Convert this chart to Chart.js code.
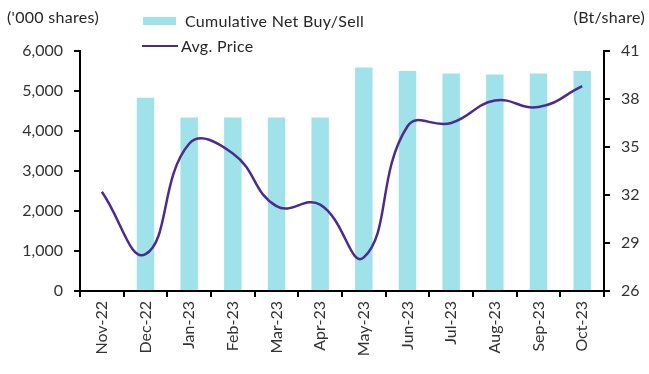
<!DOCTYPE html>
<html>
<head>
<meta charset="utf-8">
<script src="https://cdn.jsdelivr.net/npm/chart.js@4.4.0/dist/chart.umd.min.js"></script>
<style>
  html, body { margin: 0; padding: 0; background: #fff; }
  #wrap { position: relative; width: 649px; height: 374px; font-family: "Lato", "Open Sans", sans-serif; color: #262626; }
  #c { position: absolute; left: 0; top: 0; }
  .lbl { position: absolute; font-size: 16px; line-height: 18px; white-space: nowrap; letter-spacing: 0.3px; }
  .sw-bar { position: absolute; left: 143px; top: 17px; width: 33px; height: 8px; background: #A0E2EA; }
  .sw-line { position: absolute; left: 142px; top: 45px; width: 36px; height: 2px; background: #4B2C8E; }
</style>
</head>
<body>
<div id="wrap">
  <canvas id="c" width="649" height="374"></canvas>
  <div class="lbl" style="left:7px; top:8px;">('000 shares)</div>
  <div class="lbl" style="right:4px; top:8px;">(Bt/share)</div>
  <div class="sw-bar"></div>
  <div class="lbl" style="left:185px; top:12px;">Cumulative Net Buy/Sell</div>
  <div class="sw-line"></div>
  <div class="lbl" style="left:181px; top:37px;">Avg. Price</div>
</div>
<script>
// Monthly foreign flow: cumulative net buy/sell ('000 shares) and average price (Bt/share)
const months = ["Nov-22", "Dec-22", "Jan-23", "Feb-23", "Mar-23", "Apr-23",
                "May-23", "Jun-23", "Jul-23", "Aug-23", "Sep-23", "Oct-23"];
const cumulativeNet = [null, 4830, 4340, 4340, 4340, 4340, 5590, 5500, 5440, 5410, 5440, 5500];
const avgPrice = [32.2, 28.3, 35.2, 34.6, 31.3, 31.4, 28.1, 36.3, 36.5, 37.9, 37.5, 38.8];
const leftTicks = [0, 1000, 2000, 3000, 4000, 5000, 6000];
const rightTicks = [26, 29, 32, 35, 38, 41];

const axisColor = "#000";
const tickFont = { family: "Lato, 'Open Sans', sans-serif", size: 16 };
const tickColor = "#333";

new Chart(document.getElementById("c"), {
  data: {
    labels: months,
    datasets: [
      {
        type: "line",
        label: "Avg. Price",
        data: avgPrice,
        yAxisID: "yR",
        borderColor: "#4B2C8E",
        borderWidth: 2.5,
        pointRadius: 0,
        tension: 0.45,
        fill: false,
        order: 0
      },
      {
        type: "bar",
        label: "Cumulative Net Buy/Sell",
        data: cumulativeNet,
        yAxisID: "yL",
        backgroundColor: "#A0E2EA",
        categoryPercentage: 1.0,
        barPercentage: 0.4,
        order: 1
      }
    ]
  },
  options: {
    responsive: false,
    animation: false,
    layout: { padding: { top: 51, left: 0, right: 0, bottom: 0 } },
    plugins: { legend: { display: false }, tooltip: { enabled: false } },
    scales: {
      x: {
        offset: true,
        grid: { offset: true, drawOnChartArea: false, color: axisColor, lineWidth: 2, tickLength: 6 },
        border: { color: axisColor, width: 2 },
        ticks: { font: tickFont, color: tickColor, minRotation: 90, maxRotation: 90, padding: 4, autoSkip: false },
        afterFit: s => { s.height = 83; }
      },
      yL: {
        position: "left",
        min: 0, max: 6000,
        afterBuildTicks: s => { s.ticks = leftTicks.map(v => ({ value: v })); },
        grid: { drawOnChartArea: false, color: axisColor, lineWidth: 2, tickLength: 6 },
        border: { color: axisColor, width: 2 },
        ticks: {
          font: tickFont, color: tickColor, padding: 11,
          callback: v => v.toLocaleString("en-US")
        },
        afterFit: s => { s.width = 80; }
      },
      yR: {
        position: "right",
        min: 26, max: 41,
        afterBuildTicks: s => { s.ticks = rightTicks.map(v => ({ value: v })); },
        grid: { drawOnChartArea: false, color: axisColor, lineWidth: 2, tickLength: 6 },
        border: { color: axisColor, width: 2 },
        ticks: { font: tickFont, color: tickColor, padding: 11 },
        afterFit: s => { s.width = 45; }
      }
    }
  }
});
</script>
</body>
</html>
